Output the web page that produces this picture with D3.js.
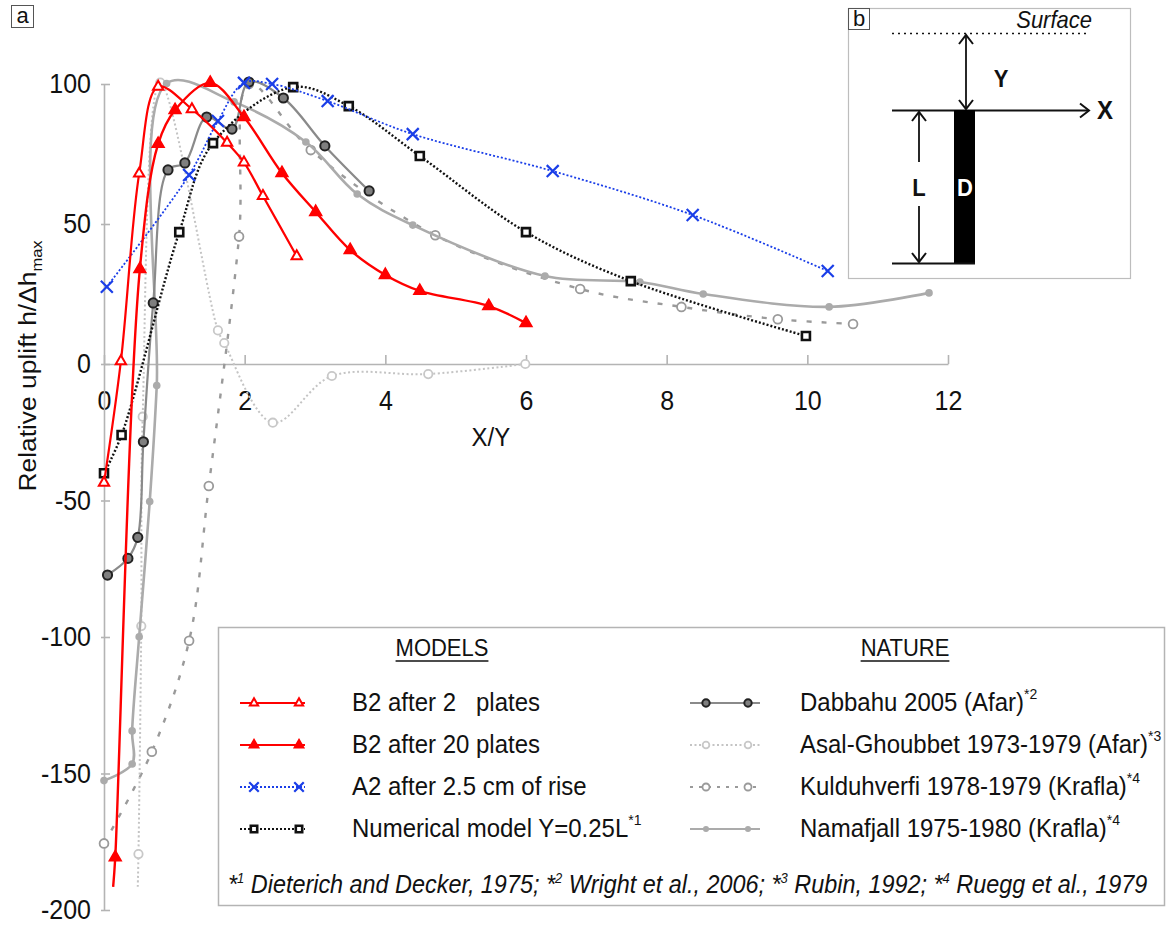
<!DOCTYPE html>
<html>
<head>
<meta charset="utf-8">
<script src="https://cdn.jsdelivr.net/npm/d3@7"></script>
<style>
  body { margin: 0; background: #fff; }
  text { font-family: "Liberation Sans", Arial, sans-serif; fill: #111; }
</style>
</head>
<body>
<svg width="1167" height="926"></svg>
<script>
// ---- data (X/Y, relative uplift) ----
var b2p2X = [0, 0.24, 0.50, 0.77, 1.25, 1.75, 1.99, 2.26, 2.74];
var b2p2Y = [-43.5, 1, 68, 99, 91, 79, 72, 60, 38.5];

var b2p20X = [0.13, 0.16, 0.51, 0.77, 1.01, 1.51, 1.99, 2.53, 3.01, 3.50, 4.0, 4.49, 5.47, 6.0];
var b2p20Y = [-191.5, -180.7, 33.9, 78.6, 90.7, 100.4, 88.2, 68.2, 54.3, 40.7, 31.8, 26.1, 20.7, 14.6];

var a2X = [0.04, 1.21, 1.62, 1.99, 2.39, 3.18, 4.39, 6.38, 8.37, 10.29];
var a2Y = [27.6, 67.5, 86.8, 100.4, 100, 93.9, 82.1, 68.9, 53.2, 33.2];

var numX = [0, 0.25, 1.07, 1.55, 2.69, 3.48, 4.49, 6.0, 7.49, 9.98];
var numY = [-40, -26, 47.1, 78.9, 98.9, 92.1, 74.3, 47.1, 29.6, 10];

var dabX = [0.05, 0.34, 0.48, 0.56, 0.70, 0.91, 1.15, 1.46, 1.82, 2.06, 2.55, 3.14, 3.77];
var dabY = [-77.3, -71.2, -63.5, -28.5, 21.8, 69.3, 71.8, 88.2, 83.9, 100.7, 95, 77.9, 61.8];

var asalX = [0.48, 0.49, 0.53, 0.55, 0.80, 1.62, 1.71, 2.40, 3.24, 4.61, 5.99];
var asalY = [-191.5, -179.5, -96, -19.3, 100.5, 12, 7.5, -21.5, -4.4, -3.7, 0];

var kulX = [0, 0.68, 1.21, 1.49, 1.92, 2.06, 2.94, 4.71, 6.77, 8.21, 9.58, 10.65];
var kulY = [-175.6, -142, -101.4, -44.7, 45.5, 100, 76.4, 46, 26.8, 20.4, 16, 14.3];

var namX = [0, 0.40, 0.40, 0.50, 0.65, 0.75, 0.89, 1.85, 2.87, 3.60, 4.39, 6.27, 7.62, 8.52, 10.31, 11.73];
var namY = [-152.6, -146.5, -134.4, -99.9, -50.4, -7.9, 100.2, 93.6, 79.3, 60.7, 49.6, 31.4, 29.3, 25, 20.4, 25.4];

var xTicks = [0, 2, 4, 6, 8, 10, 12];
var yTicks = [-200, -150, -100, -50, 0, 50, 100];

var modelLabels = ["B2 after 2   plates", "B2 after 20 plates", "A2 after 2.5 cm of rise", "Numerical model Y=0.25L"];
var modelNotes = ["", "", "", "*1"];
var natureLabels = ["Dabbahu 2005 (Afar)", "Asal-Ghoubbet 1973-1979 (Afar)", "Kulduhverfi 1978-1979 (Krafla)", "Namafjall 1975-1980 (Krafla)"];
var natureNotes = ["*2", "*3", "*4", "*4"];

var svg = d3.select("svg");
var SY = 1.1; // the original lettering is a little taller than wide

var x = d3.scaleLinear().domain([0, 12]).range([104, 948]);
var y = d3.scaleLinear().domain([-200, 0, 100]).range([910, 364, 84]);

// axes
var xAxis = svg.append("g")
    .attr("transform", "translate(0," + y(0) + ")")
    .call(d3.axisBottom(x).tickValues(xTicks).tickFormat(String)
        .tickSizeInner(-9).tickSizeOuter(0).tickPadding(26));
var yAxis = svg.append("g")
    .attr("transform", "translate(" + x(0) + ",0)")
    .call(d3.axisLeft(y).tickValues(yTicks).tickFormat(String)
        .tickSizeInner(-6).tickSizeOuter(0).tickPadding(13));

[xAxis, yAxis].forEach(function (g) {
    g.select(".domain").attr("stroke", "#b4b4b4").attr("stroke-width", 1.6);
    g.selectAll(".tick line").attr("stroke", "#b4b4b4").attr("stroke-width", 1.6);
    g.selectAll(".tick text").attr("font-size", 25).attr("fill", "#111")
        .style("font-family", "'Liberation Sans', Arial, sans-serif")
        .each(function () {
            var t = d3.select(this);
            t.attr("y", (+t.attr("y") || 0) / SY).attr("transform", "scale(1," + SY + ")");
        });
});
yAxis.selectAll(".tick line").attr("x1", -3);

// stretched text helper
function label(g, px, py, size, str) {
    return g.append("text")
        .attr("transform", "translate(" + px + "," + py + ") scale(1," + SY + ")")
        .attr("font-size", size).text(str);
}

label(svg, x(5.5), 446, 24, "X/Y").attr("text-anchor", "middle");

var yt = svg.append("text").attr("transform", "translate(36,366) rotate(-90) scale(" + SY + ",1)")
    .attr("text-anchor", "middle").attr("font-size", 24);
yt.append("tspan").text("Relative uplift h/\u0394h");
yt.append("tspan").attr("font-size", 15).attr("dy", 6).text("max");

// marker painter
function mark(g, type, px, py, k) {
    k = k || 1;
    if (type === "openTri") {
        g.append("path").attr("d", d3.symbol(d3.symbolTriangle, 46 * k * k)())
            .attr("transform", "translate(" + px + "," + py + ")")
            .attr("fill", "#fff").attr("stroke", "#ff0000").attr("stroke-width", 2);
    } else if (type === "fillTri") {
        g.append("path").attr("d", d3.symbol(d3.symbolTriangle, 62 * k * k)())
            .attr("transform", "translate(" + px + "," + py + ")")
            .attr("fill", "#ff0000").attr("stroke", "#ff0000").attr("stroke-width", 1.5);
    } else if (type === "cross") {
        g.append("path").attr("d", d3.symbol(d3.symbolX, 95 * k * k)())
            .attr("transform", "translate(" + px + "," + py + ")")
            .attr("fill", "none").attr("stroke", "#1a3ee8").attr("stroke-width", 2.2);
    } else if (type === "square") {
        g.append("path").attr("d", d3.symbol(d3.symbolSquare, 64 * k * k)())
            .attr("transform", "translate(" + px + "," + py + ")")
            .attr("fill", "#fff").attr("stroke", "#111").attr("stroke-width", 2.6);
    } else if (type === "dab") {
        g.append("circle").attr("cx", px).attr("cy", py).attr("r", 4.6 * k)
            .attr("fill", "#7f7f7f").attr("stroke", "#222").attr("stroke-width", 2);
    } else if (type === "asal") {
        g.append("circle").attr("cx", px).attr("cy", py).attr("r", 4.2 * k)
            .attr("fill", "#fff").attr("stroke", "#c8c8c8").attr("stroke-width", 1.8);
    } else if (type === "kul") {
        g.append("circle").attr("cx", px).attr("cy", py).attr("r", 4.4 * k)
            .attr("fill", "#fff").attr("stroke", "#9a9a9a").attr("stroke-width", 1.8);
    } else if (type === "nam") {
        g.append("circle").attr("cx", px).attr("cy", py).attr("r", 3.8 * k)
            .attr("fill", "#ababab");
    }
}

var series = [
    { xs: kulX, ys: kulY, color: "#9a9a9a", width: 2.4, dash: "5,10", type: "kul", skip: [] },
    { xs: asalX, ys: asalY, color: "#c4c4c4", width: 2, dash: "2,2.5", type: "asal", skip: [0] },
    { xs: namX, ys: namY, color: "#ababab", width: 2.6, dash: null, type: "nam", skip: [] },
    { xs: dabX, ys: dabY, color: "#8a8a8a", width: 2.2, dash: null, type: "dab", skip: [] },
    { xs: numX, ys: numY, color: "#111", width: 2.4, dash: "2,2", type: "square", skip: [] },
    { xs: a2X, ys: a2Y, color: "#1a3ee8", width: 1.8, dash: "2,2", type: "cross", skip: [] },
    { xs: b2p20X, ys: b2p20Y, color: "#ff0000", width: 2.4, dash: null, type: "fillTri", skip: [0] },
    { xs: b2p2X, ys: b2p2Y, color: "#ff0000", width: 2.2, dash: null, type: "openTri", skip: [] }
];

var line = d3.line()
    .x(function (d) { return x(d[0]); })
    .y(function (d) { return y(d[1]); })
    .curve(d3.curveCatmullRom.alpha(0.5));

series.forEach(function (s) {
    var pts = s.xs.map(function (v, i) { return [v, s.ys[i]]; });
    var g = svg.append("g");
    g.append("path").attr("d", line(pts)).attr("fill", "none")
        .attr("stroke", s.color).attr("stroke-width", s.width)
        .attr("stroke-dasharray", s.dash);
    pts.forEach(function (p, i) {
        if (s.skip.indexOf(i) < 0) mark(g, s.type, x(p[0]), y(p[1]));
    });
});

// panel label a
svg.append("rect").attr("x", 11.5).attr("y", 5.5).attr("width", 22).attr("height", 22)
    .attr("fill", "#fff").attr("stroke", "#555");
svg.append("text").attr("x", 22.5).attr("y", 23).attr("text-anchor", "middle")
    .attr("font-size", 22).text("a");

// legend
var lg = svg.append("g");
lg.append("rect").attr("x", 218.5).attr("y", 627.5).attr("width", 946).attr("height", 278)
    .attr("fill", "#fff").attr("stroke", "#b4b4b4").attr("stroke-width", 1.5);

[["MODELS", 442], ["NATURE", 905]].forEach(function (h) {
    var t = label(lg, h[1], 656, 22, h[0]).attr("text-anchor", "middle");
    var w = t.node().getComputedTextLength();
    lg.append("line").attr("x1", h[1] - w / 2).attr("x2", h[1] + w / 2)
        .attr("y1", 661).attr("y2", 661).attr("stroke", "#111").attr("stroke-width", 1.3);
});

var rowY = [703, 745, 787, 829];
var modelSeries = [series[7], series[6], series[5], series[4]];
var natureSeries = [series[3], series[1], series[0], series[2]];

function legendCol(list, labels, notes, x0, x1, m0, m1, tx) {
    list.forEach(function (s, i) {
        var yy = rowY[i];
        lg.append("line").attr("x1", x0).attr("x2", x1).attr("y1", yy).attr("y2", yy)
            .attr("stroke", s.color).attr("stroke-width", Math.min(s.width, 2.2))
            .attr("stroke-dasharray", s.dash === "5,10" ? "3,6" : s.dash);
        mark(lg, s.type, m0, yy, 0.8);
        mark(lg, s.type, m1, yy, 0.8);
        var t = label(lg, tx, yy + 8, 24, labels[i]).style("white-space", "pre");
        if (notes[i]) {
            t.append("tspan").attr("font-size", 14).attr("dy", -11).text(notes[i]);
        }
    });
}
legendCol(modelSeries, modelLabels, modelNotes, 240, 305, 254, 299, 352);
legendCol(natureSeries, natureLabels, natureNotes, 690, 760, 706, 748, 800);

var foot = label(lg, 228, 893, 23.4, null).attr("font-style", "italic");
var refs = [["1", " Dieterich and Decker, 1975; "], ["2", " Wright et al., 2006; "],
            ["3", " Rubin, 1992; "], ["4", " Ruegg et al., 1979"]];
refs.forEach(function (r) {
    foot.append("tspan").text("*");
    foot.append("tspan").attr("font-size", 13).attr("dy", -9).text(r[0]);
    foot.append("tspan").attr("dy", 9).style("white-space", "pre").text(r[1]);
});

// inset b
var ib = svg.append("g").attr("stroke-linecap", "butt");
ib.append("rect").attr("x", 848.5).attr("y", 8.5).attr("width", 282).attr("height", 270)
    .attr("fill", "#fff").attr("stroke", "#bdbdbd").attr("stroke-width", 1.2);
ib.append("rect").attr("x", 848.5).attr("y", 8.5).attr("width", 21).attr("height", 21)
    .attr("fill", "none").attr("stroke", "#555");
ib.append("text").attr("x", 859).attr("y", 26).attr("text-anchor", "middle")
    .attr("font-size", 22).text("b");
label(ib, 1092, 28, 22, "Surface").attr("text-anchor", "end").attr("font-style", "italic");
ib.append("line").attr("x1", 892).attr("x2", 1090).attr("y1", 33.5).attr("y2", 33.5)
    .attr("stroke", "#111").attr("stroke-width", 1.3).attr("stroke-dasharray", "2,4");

function arrowHead(px, py, dir) {
    var a = 7, b = 9;
    var d;
    if (dir === "up") d = "M" + (px - a) + "," + (py + b) + "L" + px + "," + py + "L" + (px + a) + "," + (py + b);
    if (dir === "down") d = "M" + (px - a) + "," + (py - b) + "L" + px + "," + py + "L" + (px + a) + "," + (py - b);
    if (dir === "right") d = "M" + (px - b) + "," + (py - a) + "L" + px + "," + py + "L" + (px - b) + "," + (py + a);
    ib.append("path").attr("d", d).attr("fill", "none").attr("stroke", "#111").attr("stroke-width", 2);
}
function seg(x1, y1, x2, y2, w) {
    ib.append("line").attr("x1", x1).attr("y1", y1).attr("x2", x2).attr("y2", y2)
        .attr("stroke", "#111").attr("stroke-width", w || 1.8);
}
// Y arrow
seg(966, 35, 966, 109);
arrowHead(966, 35, "up");
arrowHead(966, 109, "down");
label(ib, 1001, 87, 22, "Y").attr("text-anchor", "middle").attr("font-weight", "bold");
// X axis
seg(892, 110.5, 1089, 110.5);
arrowHead(1089, 110.5, "right");
label(ib, 1105, 119, 24, "X").attr("text-anchor", "middle").attr("font-weight", "bold");
// dyke D
ib.append("rect").attr("x", 954).attr("y", 110).attr("width", 21).attr("height", 153).attr("fill", "#000");
label(ib, 965, 196, 22, "D").attr("text-anchor", "middle").attr("font-weight", "bold").style("fill", "#fff");
seg(892, 263.5, 975, 263.5);
// L arrow
seg(919, 112, 919, 162);
seg(919, 206, 919, 262);
arrowHead(919, 112, "up");
arrowHead(919, 262, "down");
label(ib, 919, 196, 22, "L").attr("text-anchor", "middle").attr("font-weight", "bold");
</script>
</body>
</html>
